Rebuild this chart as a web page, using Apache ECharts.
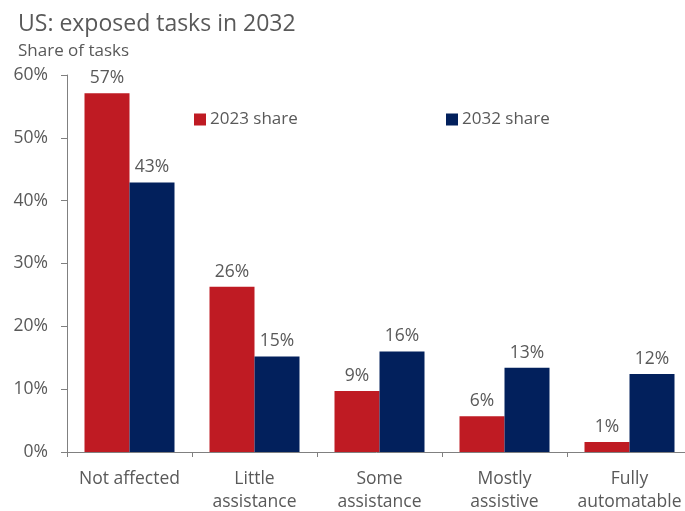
<!DOCTYPE html>
<html>
<head>
<meta charset="utf-8">
<script src="https://cdn.jsdelivr.net/npm/echarts@6/dist/echarts.min.js"></script>
<style>
  html, body { margin: 0; padding: 0; background: #fff; }
  #chart { width: 685px; height: 511px; }
</style>
</head>
<body>
<div id="chart"></div>
<script>
// categories and values
var categories = ['Not affected', 'Little\nassistance', 'Some\nassistance', 'Mostly\nassistive', 'Fully\nautomatable'];
var share2023 = [57.1, 26.3, 9.7, 5.7, 1.6];
var share2032 = [42.9, 15.2, 16.0, 13.4, 12.4];
var labels2023 = ['57%', '26%', '9%', '6%', '1%'];
var labels2032 = ['43%', '15%', '16%', '13%', '12%'];

var font = '"Open Sans", "Noto Sans", sans-serif';
var grey = '#595959';

var chart = echarts.init(document.getElementById('chart'));

function labelOpt(list) {
    return {
        show: true,
        position: 'top',
        distance: 6,
        color: grey,
        fontFamily: font,
        fontSize: 17.5,
        formatter: function (p) { return list[p.dataIndex]; }
    };
}

chart.setOption({
    animation: false,
    textStyle: { fontFamily: font },
    title: [
        { text: 'US: exposed tasks in 2032', left: 13, top: 8,
          textStyle: { fontSize: 23, fontWeight: 'normal', color: grey, fontFamily: font } },
        { text: 'Share of tasks', left: 13, top: 38,
          textStyle: { fontSize: 17, fontWeight: 'normal', color: grey, fontFamily: font } }
    ],
    legend: [
        { data: ['2023 share'], left: 194, top: 111, padding: 0, itemWidth: 12, itemHeight: 12, itemGap: 0,
          icon: 'rect', textStyle: { fontSize: 17, color: grey, fontFamily: font, padding: [0, 0, 0, -1] } },
        { data: ['2032 share'], left: 446, top: 111, padding: 0, itemWidth: 12, itemHeight: 12, itemGap: 0,
          icon: 'rect', textStyle: { fontSize: 17, color: grey, fontFamily: font, padding: [0, 0, 0, -1] } }
    ],
    grid: { left: 67, right: -7, top: 75, bottom: 59, outerBoundsMode: 'none' },
    xAxis: {
        type: 'category',
        data: categories,
        axisLine: { lineStyle: { color: '#808080', width: 1 } },
        axisTick: { show: true, length: 5, lineStyle: { color: '#808080' } },
        axisLabel: { color: grey, fontSize: 17.5, fontFamily: font, margin: 16, lineHeight: 23, interval: 0 }
    },
    yAxis: {
        type: 'value',
        min: 0,
        max: 60,
        interval: 10,
        splitLine: { show: false },
        axisLine: { show: true, lineStyle: { color: '#808080', width: 1 } },
        axisTick: { show: true, length: 6, lineStyle: { color: '#808080' } },
        axisLabel: { color: grey, fontSize: 17.5, fontFamily: font, margin: 19, formatter: '{value}%' }
    },
    series: [
        { name: '2023 share', type: 'bar', data: share2023, barGap: '0%', barCategoryGap: '28%',
          itemStyle: { color: '#BF1B23' }, label: labelOpt(labels2023) },
        { name: '2032 share', type: 'bar', data: share2032, barGap: '0%', barCategoryGap: '28%',
          itemStyle: { color: '#02205C' }, label: labelOpt(labels2032) }
    ]
});

window.onresize = function () {
    chart.resize();
};
</script>
</body>
</html>
